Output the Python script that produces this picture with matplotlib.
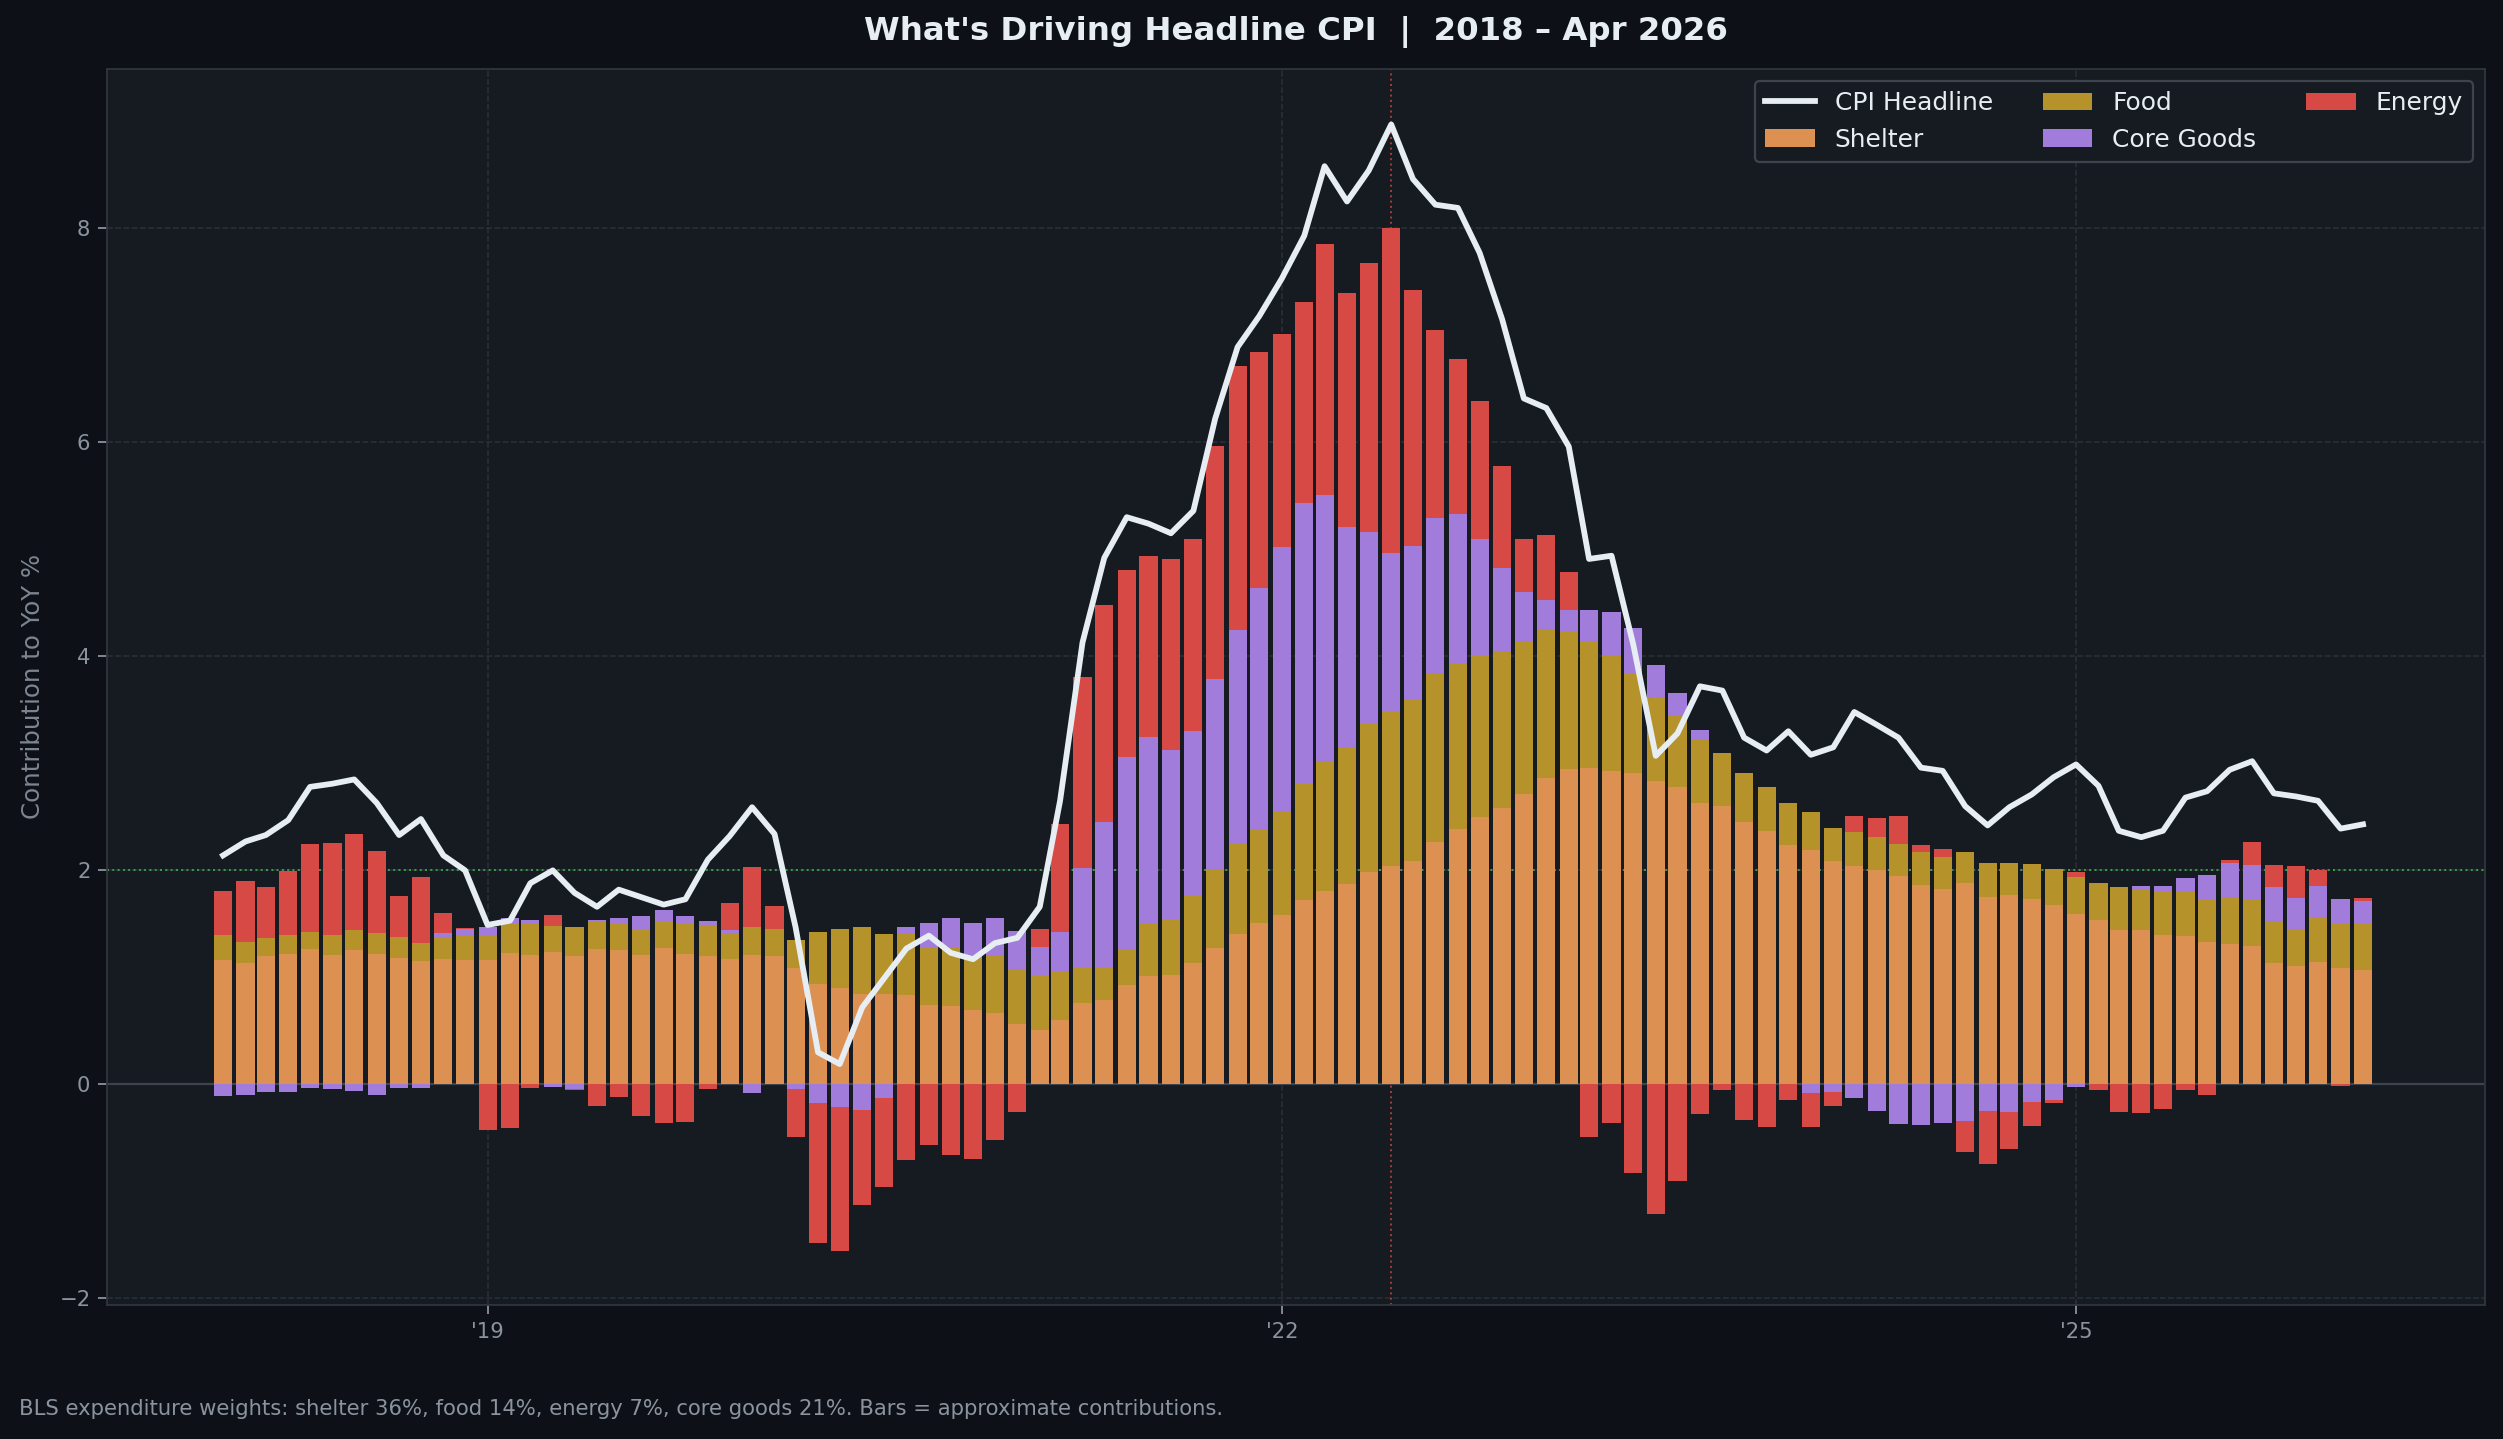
import numpy as np
import pandas as pd
from matplotlib import pyplot as plt

# monthly observations, Jan 2018 .. Feb 2026
months = pd.date_range('2018-01-01', periods=98, freq='MS')

# contributions to YoY %, one value per month
shelter = [1.165, 1.136, 1.202, 1.219, 1.265, 1.211, 1.257, 1.219, 1.182, 1.157, 1.173, 1.165,
           1.165, 1.232, 1.211, 1.240, 1.202, 1.265, 1.257, 1.211, 1.278, 1.219, 1.202, 1.173,
           1.211, 1.202, 1.090, 0.939, 0.902, 0.848, 0.848, 0.835, 0.743, 0.735, 0.697, 0.668,
           0.564, 0.509, 0.601, 0.764, 0.789, 0.931, 1.015, 1.027, 1.134, 1.278, 1.409, 1.510,
           1.582, 1.719, 1.809, 1.869, 1.982, 2.042, 2.084, 2.269, 2.388, 2.501, 2.585, 2.710,
           2.866, 2.943, 2.961, 2.931, 2.913, 2.836, 2.782, 2.633, 2.597, 2.448, 2.370, 2.239,
           2.191, 2.090, 2.042, 2.000, 1.946, 1.863, 1.827, 1.881, 1.749, 1.773, 1.735, 1.681,
           1.595, 1.538, 1.445, 1.445, 1.398, 1.391, 1.334, 1.316, 1.295, 1.137, 1.102, 1.148,
           1.091, 1.073]

food = [0.234, 0.196, 0.167, 0.180, 0.163, 0.188, 0.188, 0.196, 0.196, 0.167, 0.205, 0.230,
        0.234, 0.271, 0.296, 0.242, 0.271, 0.263, 0.246, 0.234, 0.242, 0.284, 0.284, 0.246,
        0.263, 0.251, 0.263, 0.489, 0.551, 0.626, 0.559, 0.572, 0.543, 0.538, 0.485, 0.543,
        0.518, 0.505, 0.463, 0.325, 0.300, 0.335, 0.484, 0.519, 0.639, 0.728, 0.842, 0.872,
        0.967, 1.087, 1.212, 1.283, 1.385, 1.445, 1.504, 1.576, 1.546, 1.511, 1.469, 1.433,
        1.385, 1.296, 1.170, 1.069, 0.926, 0.782, 0.669, 0.591, 0.502, 0.459, 0.400, 0.382,
        0.358, 0.310, 0.316, 0.316, 0.305, 0.310, 0.298, 0.292, 0.322, 0.299, 0.329, 0.336,
        0.340, 0.347, 0.404, 0.379, 0.404, 0.411, 0.397, 0.436, 0.429, 0.394, 0.350, 0.411,
        0.411, 0.429]

core_goods = [-0.104, -0.096, -0.075, -0.067, -0.029, -0.046, -0.058, -0.096, -0.029, -0.029, 0.038, 0.058,
              0.075, 0.054, 0.029, -0.020, -0.040, 0.008, 0.054, 0.129, 0.113, 0.071, 0.042, 0.025,
              -0.079, 0.000, -0.042, -0.171, -0.209, -0.238, -0.125, 0.067, 0.225, 0.284, 0.329, 0.346,
              0.355, 0.271, 0.363, 0.929, 1.366, 1.797, 1.743, 1.576, 1.528, 1.779, 1.994, 2.257,
              2.472, 2.627, 2.489, 2.054, 1.797, 1.480, 1.445, 1.451, 1.397, 1.087, 0.770, 0.460,
              0.274, 0.191, 0.305, 0.418, 0.430, 0.298, 0.203, 0.083, 0.000, 0.006, 0.012, 0.012,
              -0.084, -0.072, -0.131, -0.251, -0.370, -0.382, -0.364, -0.346, -0.251, -0.258, -0.161, -0.143,
              -0.021, 0.000, 0.000, 0.032, 0.054, 0.129, 0.229, 0.318, 0.329, 0.318, 0.293, 0.297,
              0.233, 0.215]

energy = [0.409, 0.572, 0.476, 0.593, 0.823, 0.860, 0.898, 0.769, 0.384, 0.618, 0.188, 0.013,
          -0.426, -0.405, -0.029, 0.104, -0.010, -0.200, -0.117, -0.296, -0.359, -0.351, -0.042, 0.255,
          0.559, 0.217, -0.451, -1.311, -1.348, -0.889, -0.835, -0.706, -0.568, -0.660, -0.697, -0.518,
          -0.259, 0.167, 1.006, 1.786, 2.022, 1.743, 1.695, 1.785, 1.798, 2.179, 2.471, 2.209,
          1.988, 1.874, 2.341, 2.191, 2.508, 3.033, 2.394, 1.749, 1.451, 1.289, 0.955, 0.496,
          0.609, 0.358, -0.490, -0.364, -0.824, -1.212, -0.907, -0.281, -0.054, -0.328, -0.400, -0.149,
          -0.310, -0.131, 0.149, 0.174, 0.256, 0.066, 0.078, -0.287, -0.495, -0.346, -0.225, -0.029,
          0.054, -0.050, -0.254, -0.265, -0.229, -0.050, -0.097, 0.029, 0.215, 0.204, 0.297, 0.150,
          -0.018, 0.028]

cpi = [2.14, 2.27, 2.33, 2.47, 2.78, 2.81, 2.85, 2.63, 2.33, 2.48, 2.14, 2.00,
       1.49, 1.53, 1.88, 2.00, 1.79, 1.66, 1.82, 1.75, 1.68, 1.73, 2.10, 2.32,
       2.59, 2.34, 1.47, 0.30, 0.19, 0.72, 0.99, 1.27, 1.39, 1.23, 1.17, 1.32,
       1.37, 1.66, 2.65, 4.13, 4.92, 5.30, 5.24, 5.15, 5.36, 6.22, 6.89, 7.18,
       7.53, 7.93, 8.58, 8.25, 8.54, 8.97, 8.46, 8.22, 8.19, 7.77, 7.15, 6.41,
       6.32, 5.96, 4.91, 4.94, 4.11, 3.07, 3.28, 3.72, 3.68, 3.24, 3.12, 3.30,
       3.08, 3.15, 3.48, 3.36, 3.24, 2.96, 2.93, 2.60, 2.42, 2.59, 2.71, 2.87,
       2.99, 2.79, 2.37, 2.31, 2.37, 2.68, 2.74, 2.94, 3.02, 2.72, 2.69, 2.65,
       2.39, 2.43]

peak_month = pd.Timestamp('2022-06-01')
year_ticks = [pd.Timestamp('2019-01-01'), pd.Timestamp('2022-01-01'), pd.Timestamp('2025-01-01')]
year_labels = ["'19", "'22", "'25"]

#colours (github-dark-ish)
FIG_BG = '#0d1117'
AX_BG = '#161b22'
GRID = '#30363d'
MUTED = '#8b949e'
TEXT = '#e6edf3'

fig = plt.figure(figsize=(2503/160, 1439/160), dpi=160, facecolor=FIG_BG)
ax = fig.add_axes([0.0428, 0.0932, 0.9502, 0.8590])
ax.set_facecolor(AX_BG)

series = [(shelter, '#dc9052', 'Shelter'),
          (food, '#b6922a', 'Food'),
          (core_goods, '#a17cdb', 'Core Goods'),
          (energy, '#d64945', 'Energy')]

#positive parts stack upwards, negative parts stack downwards
pos_bottom = np.zeros(len(months))
neg_bottom = np.zeros(len(months))
bar_handles = []
for vals, col, lab in series:
    vals = np.array(vals)
    pos = np.where(vals > 0, vals, 0)
    neg = np.where(vals < 0, vals, 0)
    h = ax.bar(months, pos, width=25, bottom=pos_bottom, color=col, lw=0, label=lab, zorder=2)
    ax.bar(months, neg, width=25, bottom=neg_bottom, color=col, lw=0, zorder=2)
    pos_bottom += pos
    neg_bottom += neg
    bar_handles.append(h)

line, = ax.plot(months, cpi, color=TEXT, lw=2.6, label='CPI Headline', zorder=4)

ax.axhline(0, color='#3d444d', lw=1.0, zorder=1)
ax.axhline(2, color='#3fb950', ls=':', lw=0.9, alpha=0.8, zorder=1)
ax.axvline(peak_month, color='#f85149', ls=':', lw=0.9, alpha=0.6, zorder=1)

ax.set_xlim(pd.Timestamp('2019-01-01') - pd.Timedelta(days=525),
            pd.Timestamp('2025-01-01') + pd.Timedelta(days=565))
ax.set_ylim(-2.06, 9.49)

ax.set_xticks(year_ticks)
ax.set_xticklabels(year_labels)
ax.set_yticks([-2, 0, 2, 4, 6, 8])
ax.set_yticklabels(['\u22122', '0', '2', '4', '6', '8'])
ax.tick_params(colors=MUTED, labelsize=9.5, length=4)

ax.grid(True, color=GRID, ls='--', lw=0.7, alpha=0.8, zorder=0)
ax.set_axisbelow(True)
for sp in ax.spines.values():
    sp.set_color(GRID)

ax.set_ylabel('Contribution to YoY %', color='#7d8590', fontsize=11)
ax.yaxis.set_label_coords(-0.0262, 0.5)

ax.set_title("What's Driving Headline CPI  |  2018 \u2013 Apr 2026", color=TEXT,
             fontsize=14.6, fontweight='bold', pad=13)

handles = [line] + bar_handles
lgd = ax.legend(handles=handles, labels=[h.get_label() for h in handles], loc='upper right',
                ncol=3, fontsize=11.2, facecolor=AX_BG, edgecolor='#3d444d', labelcolor=TEXT,
                framealpha=1.0, borderaxespad=0.5)

fig.text(0.0075, 0.021, 'BLS expenditure weights: shelter 36%, food 14%, energy 7%, core goods 21%. '
         'Bars = approximate contributions.', color=MUTED, fontsize=9.5, ha='left', va='center')

fig.savefig('out.png', dpi=160, facecolor=FIG_BG)
